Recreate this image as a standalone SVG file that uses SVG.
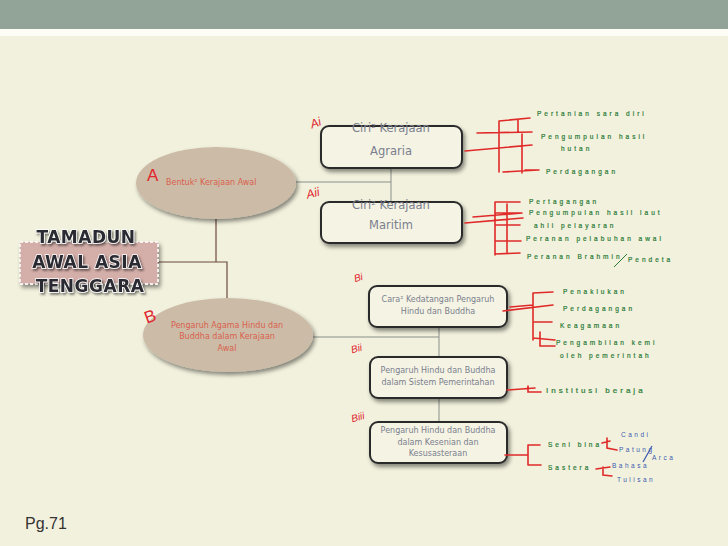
<svg xmlns="http://www.w3.org/2000/svg" width="728" height="546" viewBox="0 0 728 546">
<defs>
<style>
.node-box{fill:#f5f3e4;stroke:#2c2c2c;stroke-width:2}
.ell{fill:#ccbca7}
.btxt{font-family:"DejaVu Sans","Liberation Sans",sans-serif;font-size:8px;fill:#7a7f8e;text-anchor:middle}
.big{font-size:11.5px}
.etxt{font-family:"DejaVu Sans","Liberation Sans",sans-serif;font-size:8px;fill:#d9604e}
.lab{font-family:"Liberation Sans",sans-serif;fill:#e0262e;font-style:italic;font-size:10px}
.labbig{font-size:17px;font-style:normal}
.conn{stroke:#6b4a3e;stroke-width:1.2;fill:none}
.conn2{stroke:#8a8f8a;stroke-width:1;fill:none}
.red{stroke:#e02a2a;stroke-width:1.6;fill:none;stroke-linecap:round}
.hw{font-family:"Liberation Sans",sans-serif;font-size:6.5px;fill:#2a7a36;letter-spacing:3px;stroke:#2a7a36;stroke-width:0.2}
.hw8{font-size:8px}
.hwb{font-family:"Liberation Sans",sans-serif;font-size:6.5px;fill:#3b5bb0;letter-spacing:2.5px}
.title{font-family:"DejaVu Sans","Liberation Sans",sans-serif;font-weight:bold;font-size:17px;fill:#2a2a30;text-anchor:middle;stroke:#ffffff;stroke-width:1.5;paint-order:stroke;letter-spacing:0.5px}
</style>
<filter id="sh" x="-20%" y="-20%" width="150%" height="160%">
<feDropShadow dx="2" dy="3" stdDeviation="2" flood-color="#000" flood-opacity="0.45"/>
</filter>
<filter id="tsh" x="-10%" y="-30%" width="130%" height="170%">
<feDropShadow dx="1.5" dy="2" stdDeviation="1" flood-color="#000" flood-opacity="0.5"/>
</filter>
</defs>
<rect width="728" height="546" fill="#f2f1dd"/>
<rect width="728" height="29" fill="#92a397"/>
<rect y="29" width="728" height="7" fill="#fdfdf5"/>

<g id="connectors">
<polyline class="conn" points="158,262 227,262 227,298"/>
<line class="conn" x1="216" y1="219" x2="216" y2="262"/>
<polyline class="conn2" points="296,182 391,182"/>
<line class="conn2" x1="391" y1="168" x2="391" y2="202"/>
<polyline class="conn2" points="313,337 439,337"/>
<line class="conn2" x1="439" y1="327" x2="439" y2="358"/>
<line class="conn2" x1="439" y1="399" x2="439" y2="421"/>
</g>

<g id="title">
<rect x="20" y="242" width="138" height="42" fill="#d4aea9" stroke="#ffffff" stroke-width="1.5" stroke-dasharray="3,2" filter="url(#sh)"/>
<g filter="url(#tsh)">
<text class="title" x="86" y="243">TAMADUN</text>
<text class="title" x="87" y="268">AWAL ASIA</text>
<text class="title" x="90" y="292">TENGGARA</text>
</g>
</g>

<g id="nodeA">
<ellipse class="ell" cx="216" cy="183" rx="80" ry="36" filter="url(#sh)"/>
<text class="etxt" x="166" y="185">Bentuk² Kerajaan Awal</text>
<text class="lab labbig" x="147" y="181">A</text>
</g>

<g id="nodeB">
<ellipse class="ell" cx="228" cy="335" rx="85" ry="37" filter="url(#sh)"/>
<text class="etxt" x="227" y="328" text-anchor="middle">Pengaruh Agama Hindu dan</text>
<text class="etxt" x="227" y="339" text-anchor="middle">Buddha dalam Kerajaan</text>
<text class="etxt" x="227" y="351" text-anchor="middle">Awal</text>
<text class="lab labbig" x="144" y="322" transform="rotate(-20 150 315)">B</text>
</g>

<g id="nodeAi">
<rect class="node-box" x="321" y="126" width="141" height="42" rx="8" filter="url(#sh)"/>
<text class="btxt big" x="391" y="132">Ciri² Kerajaan</text>
<text class="btxt big" x="391" y="155">Agraria</text>
<text class="lab" x="310" y="127" transform="rotate(-20 315 122)" style="font-size:12px">Ai</text>
</g>

<g id="nodeAii">
<rect class="node-box" x="321" y="202" width="141" height="41" rx="8" filter="url(#sh)"/>
<text class="btxt big" x="391" y="209">Ciri² Kerajaan</text>
<text class="btxt big" x="391" y="229">Maritim</text>
<text class="lab" x="306" y="198" transform="rotate(-15 310 193)" style="font-size:12px">Aii</text>
</g>

<g id="nodeBi">
<rect class="node-box" x="369" y="286" width="138" height="41" rx="8" filter="url(#sh)"/>
<text class="btxt" x="438" y="302">Cara² Kedatangan Pengaruh</text>
<text class="btxt" x="438" y="314">Hindu dan Buddha</text>
<text class="lab" x="354" y="281" transform="rotate(-15 358 278)">Bi</text>
</g>

<g id="nodeBii">
<rect class="node-box" x="370" y="357" width="137" height="41" rx="8" filter="url(#sh)"/>
<text class="btxt" x="438" y="373">Pengaruh Hindu dan Buddha</text>
<text class="btxt" x="438" y="385">dalam Sistem Pemerintahan</text>
<text class="lab" x="351" y="352" transform="rotate(-15 356 349)">Bii</text>
</g>

<g id="nodeBiii">
<rect class="node-box" x="370" y="422" width="137" height="41" rx="8" filter="url(#sh)"/>
<text class="btxt" x="438" y="433">Pengaruh Hindu dan Buddha</text>
<text class="btxt" x="438" y="445">dalam Kesenian dan</text>
<text class="btxt" x="438" y="456">Kesusasteraan</text>
<text class="lab" x="351" y="421" transform="rotate(-15 356 417)">Biii</text>
</g>

<g id="notesAi">
<path class="red" d="M465,151 L532,145 M477,133 L532,132 M499,121 L499,172 M499,121 L530,118 M518,120 L518,132 M522,134 L522,173 M503,172 L538,170 M525,170 L539,170"/>
<text class="hw" x="537" y="116">Pertanian sara diri</text>
<text class="hw" x="541" y="139">Pengumpulan hasil</text>
<text class="hw" x="561" y="151">hutan</text>
<text class="hw" x="546" y="174">Perdagangan</text>
</g>

<g id="notesAii">
<path class="red" d="M465,223 L523,218 M473,217 L522,213 M495,202 L495,255 M495,202 L520,202 M507,204 L507,252 M495,213 L522,213 M495,225 L520,225 M495,241 L521,241 M495,254 L520,253"/>
<text class="hw" x="529" y="204">Pertagangan</text>
<text class="hw" x="529" y="215">Pengumpulan hasil laut</text>
<text class="hw" x="534" y="228">ahli pelayaran</text>
<text class="hw" x="526" y="241">Peranan pelabuhan awal</text>
<text class="hw" x="527" y="259">Peranan Brahmin</text>
<line x1="614" y1="267" x2="627" y2="254" stroke="#2a7a36" stroke-width="1"/>
<text class="hw" x="628" y="262">Pendeta</text>
</g>

<g id="notesBi">
<path class="red" d="M503,311 L553,305 M510,307 L533,305 M533,293 L533,340 M533,293 L553,292 M533,322 L552,322 M533,338 L555,340 M540,332 L540,346 L555,346"/>
<text class="hw" x="563" y="294">Penaklukan</text>
<text class="hw" x="563" y="311">Perdagangan</text>
<text class="hw" x="560" y="328">Keagamaan</text>
<text class="hw" x="556" y="345">Pengambilan kemi</text>
<text class="hw" x="560" y="358">oleh pemerintah</text>
</g>

<g id="notesBii">
<path class="red" d="M507,390 L535,388 M528,386 L528,392 L541,392"/>
<text class="hw hw8" x="546" y="393">Institusi beraja</text>
</g>

<g id="notesBiii">
<path class="red" d="M505,455 L528,455 M528,445 L528,465 M528,445 L540,445 M528,465 L541,465 M602,443 L610,441 M607,438 L607,448 L617,450 M596,469 L610,467 M603,467 L603,475 L612,476"/>
<text class="hw" x="548" y="447">Seni bina</text>
<text class="hw" x="548" y="470">Sastera</text>
<text class="hwb" x="621" y="437">Candi</text>
<text class="hwb" x="619" y="452">Patung</text>
<line x1="643" y1="462" x2="652" y2="446" stroke="#3b5bb0" stroke-width="1.2"/>
<text class="hwb" x="652" y="460">Arca</text>
<text class="hwb" x="612" y="468">Bahasa</text>
<text class="hwb" x="617" y="482">Tulisan</text>
</g>

<text x="25" y="529" font-family="Liberation Sans, sans-serif" font-size="16" fill="#333">Pg.71</text>
</svg>
